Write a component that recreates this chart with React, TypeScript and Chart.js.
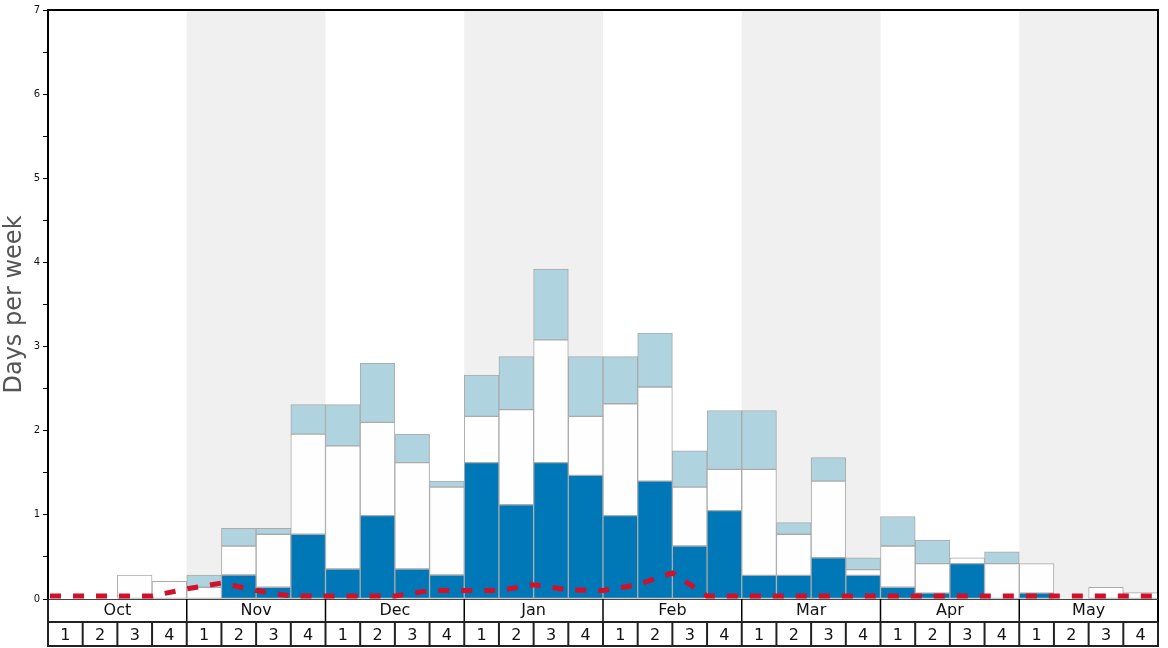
import React, { useEffect, useRef } from "react";
import { Chart, registerables } from "chart.js";

Chart.register(...registerables);

const monthLabels = ["Oct", "Nov", "Dec", "Jan", "Feb", "Mar", "Apr", "May"];
const weekLabels = [
  "1", "2", "3", "4", "1", "2", "3", "4", "1", "2", "3", "4", "1", "2", "3", "4",
  "1", "2", "3", "4", "1", "2", "3", "4", "1", "2", "3", "4", "1", "2", "3", "4",
];
const yTickValues = [0, 1, 2, 3, 4, 5, 6, 7];

// cumulative levels (days per week)
const darkLevel = [
  0, 0, 0, 0, 0, 0.285, 0.14, 0.77, 0.357, 0.99, 0.357, 0.285,
  1.62, 1.12, 1.62, 1.47, 0.99, 1.4, 0.63, 1.05, 0.28, 0.28, 0.49, 0.28,
  0.14, 0.07, 0.42, 0, 0.07, 0, 0, 0,
];
const whiteLevel = [
  0, 0, 0.285, 0.21, 0.14, 0.63, 0.77, 1.96, 1.82, 2.1, 1.62, 1.33,
  2.17, 2.25, 3.08, 2.17, 2.32, 2.52, 1.33, 1.54, 1.54, 0.77, 1.4, 0.35,
  0.63, 0.42, 0.49, 0.42, 0.42, 0, 0.14, 0.075,
];
const totalLevel = [
  0, 0, 0.285, 0.21, 0.285, 0.84, 0.84, 2.31, 2.31, 2.8, 1.96, 1.4,
  2.66, 2.88, 3.92, 2.88, 2.88, 3.16, 1.76, 2.24, 2.24, 0.907, 1.68, 0.49,
  0.98, 0.7, 0.49, 0.56, 0.42, 0, 0.14, 0.075,
];
// dashed line, values at week boundaries 0..32
const lineLevel = [
  0.036, 0.036, 0.036, 0.036, 0.12, 0.19, 0.1, 0.036, 0.036, 0.036, 0.036, 0.1,
  0.1, 0.1, 0.17, 0.107, 0.1, 0.17, 0.31, 0.036, 0.036, 0.036, 0.036, 0.036,
  0.036, 0.036, 0.036, 0.036, 0.036, 0.036, 0.036, 0.036, 0.036,
];

const nz = (v: number) => (v > 0.0001 ? v : null);

export default function App() {
  const ref = useRef<HTMLCanvasElement | null>(null);

  useEffect(() => {
    document.body.style.margin = "0";
    const canvas = ref.current;
    if (!canvas) return;

    const darkSeg = darkLevel.map((d) => nz(d));
    const whiteSeg = whiteLevel.map((w, i) => nz(w - darkLevel[i]));
    const lightSeg = totalLevel.map((t, i) => nz(t - Math.max(whiteLevel[i], darkLevel[i])));

    const boundary = (chart: any, k: number) => {
      const xs = chart.scales.x;
      return xs.left + (k * xs.width) / weekLabels.length;
    };

    const shadePlugin = {
      id: "shade",
      beforeDatasetsDraw(chart: any) {
        const { ctx, chartArea } = chart;
        ctx.save();
        ctx.fillStyle = "#f0f0f0";
        monthLabels.forEach((_, m) => {
          if (m % 2 === 1) {
            const l = boundary(chart, m * 4);
            const r = boundary(chart, m * 4 + 4);
            ctx.fillRect(l, chartArea.top, r - l, chartArea.bottom - chartArea.top);
          }
        });
        ctx.restore();
      },
    };

    const framePlugin = {
      id: "frame",
      afterDraw(chart: any) {
        const { ctx, chartArea } = chart;
        const xw = chart.scales.x;
        const xm = chart.scales.xm;
        ctx.save();
        ctx.strokeStyle = "#000";
        ctx.lineWidth = 2;
        ctx.beginPath();
        ctx.moveTo(chartArea.left, chartArea.top);
        ctx.lineTo(chartArea.right, chartArea.top);
        ctx.lineTo(chartArea.right, xw.bottom);
        ctx.stroke();
        ctx.strokeStyle = "#444";
        ctx.lineWidth = 1;
        ctx.beginPath();
        ctx.moveTo(chartArea.left, Math.round(chartArea.bottom) + 0.5);
        ctx.lineTo(chartArea.right, Math.round(chartArea.bottom) + 0.5);
        ctx.stroke();
        ctx.strokeStyle = "#000";
        ctx.lineWidth = 1.5;
        ctx.beginPath();
        for (let m = 1; m < monthLabels.length; m++) {
          const x = boundary(chart, m * 4);
          ctx.moveTo(x, xm.top);
          ctx.lineTo(x, xm.bottom);
        }
        ctx.stroke();
        ctx.strokeStyle = "#222";
        ctx.lineWidth = 2;
        ctx.beginPath();
        ctx.moveTo(xw.left, xw.top);
        ctx.lineTo(xw.right, xw.top);
        ctx.moveTo(xw.left, xw.bottom - 1);
        ctx.lineTo(xw.right, xw.bottom - 1);
        for (let k = 0; k <= weekLabels.length; k++) {
          const x = boundary(chart, k);
          ctx.moveTo(x, xw.top);
          ctx.lineTo(x, xw.bottom);
        }
        ctx.moveTo(xw.left, xm.top);
        ctx.lineTo(xw.left, xw.bottom);
        ctx.stroke();
        ctx.restore();
      },
    };

    const barCommon = {
      type: "bar" as const,
      xAxisID: "x",
      yAxisID: "y",
      borderColor: "#aaaaaa",
      borderWidth: 1,
      borderSkipped: false as const,
      categoryPercentage: 1,
      barPercentage: 1,
      grouped: false,
      stack: "s",
      order: 1,
    };

    const chart = new Chart(canvas, {
      type: "bar",
      data: {
        labels: weekLabels,
        datasets: [
          { ...barCommon, label: "dark", data: darkSeg, backgroundColor: "#0077b6" },
          { ...barCommon, label: "white", data: whiteSeg, backgroundColor: "#fefefe" },
          { ...barCommon, label: "light", data: lightSeg, backgroundColor: "#afd3df" },
          {
            type: "line",
            label: "line",
            xAxisID: "xl",
            yAxisID: "y",
            stack: "line",
            order: 0,
            data: lineLevel.map((v, k) => ({ x: k, y: v })),
            borderColor: "#d2102a",
            borderWidth: 5,
            borderDash: [11, 12],
            borderDashOffset: -2,
            pointRadius: 0,
            tension: 0,
            fill: false,
          } as any,
        ],
      },
      options: {
        responsive: false,
        animation: false,
        layout: { padding: { top: 10, right: 10, left: 0, bottom: 1 } },
        plugins: {
          legend: { display: false },
          tooltip: { enabled: false },
        },
        scales: {
          x: {
            type: "category",
            position: "bottom",
            weight: 2,
            offset: true,
            stacked: true,
            grid: { display: false, drawTicks: false },
            border: { display: false },
            ticks: {
              autoSkip: false,
              maxRotation: 0,
              padding: 4,
              color: "#111",
              font: { family: "DejaVu Sans", size: 16 },
            },
            afterFit: (s: any) => {
              s.height = 25;
            },
          },
          xm: {
            type: "category",
            position: "bottom",
            weight: 1,
            labels: monthLabels,
            offset: true,
            grid: { display: false, drawTicks: false },
            border: { display: false },
            ticks: {
              autoSkip: false,
              maxRotation: 0,
              padding: 2,
              color: "#111",
              font: { family: "DejaVu Sans", size: 16 },
            },
            afterFit: (s: any) => {
              s.height = 23;
            },
          },
          xl: {
            type: "linear",
            display: false,
            offset: false,
            bounds: "data",
            grace: 0,
            min: 0,
            max: weekLabels.length,
          },
          y: {
            type: "linear",
            stacked: true,
            min: 0,
            max: 7,
            grid: {
              drawOnChartArea: false,
              drawTicks: true,
              tickLength: 5,
              color: "#000",
              lineWidth: 1,
            },
            border: { display: true, color: "#000", width: 2 },
            ticks: {
              stepSize: 0.5,
              padding: 3,
              color: "#111",
              font: { family: "DejaVu Sans", size: 10 },
              callback: (v: any) => (yTickValues.includes(Number(v)) ? String(v) : ""),
            },
            title: {
              display: true,
              text: "Days per week",
              color: "#555",
              padding: 0,
              font: { family: "DejaVu Sans", size: 24 },
            },
            afterFit: (s: any) => {
              s.width = 48;
            },
          },
        },
      },
      plugins: [shadePlugin, framePlugin],
    });

    return () => {
      chart.destroy();
    };
  }, []);

  return (
    <div style={{ width: 1168, height: 648 }}>
      <canvas ref={ref} width={1168} height={648} />
    </div>
  );
}
